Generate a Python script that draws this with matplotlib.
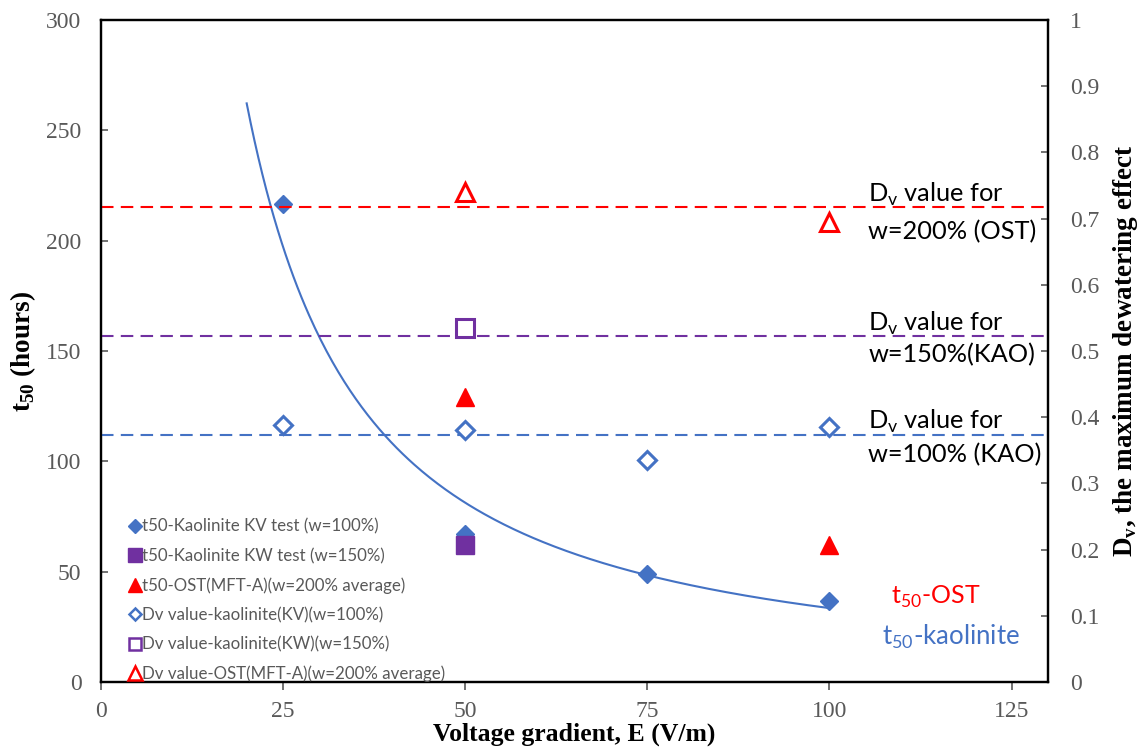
import numpy as np
import matplotlib
matplotlib.use("Agg")
import matplotlib.pyplot as plt
from matplotlib.lines import Line2D
from matplotlib.ticker import FuncFormatter

# t50 results (hours), left axis
e_kv = [25, 50, 75, 100]
t50_kv = [216.5, 67, 49, 36.5]
e_kw = [50]
t50_kw = [62]
e_ost = [50, 100]
t50_ost = [129, 62]

# Dv values, right axis
dv_kv = [0.388, 0.381, 0.335, 0.385]
dv_kw = [0.535]
dv_ost = [0.740, 0.695]

# average Dv levels drawn as dashed lines
dv_level_ost = 0.718
dv_level_kw = 0.523
dv_level_kv = 0.373

BLUE = "#4472C4"
PURPLE = "#7030A0"
RED = "#FF0000"
GREY = "#595959"
SERIF = "Liberation Serif"
SANS = "Lato"

fig = plt.figure(figsize=(11.45, 7.56), dpi=100)
ax = fig.add_axes([0.0882, 0.0979, 0.8271, 0.8756])
ax2 = ax.twinx()

# power trendline through the KV t50 points, extended back to 20 V/m
b, ln_a = np.polyfit(np.log(e_kv), np.log(t50_kv), 1)
xf = np.linspace(20, 100, 300)
ax.plot(xf, np.exp(ln_a) * xf ** b, color=BLUE, lw=1.5, zorder=2)

ax.plot(e_kv, t50_kv, ls="none", marker="D", ms=9.5, color=BLUE, zorder=3)
ax.plot(e_kw, t50_kw, ls="none", marker="s", ms=13, color=PURPLE, zorder=4)
ax.plot(e_ost, t50_ost, ls="none", marker="^", ms=13, color=RED, zorder=3)

dash = (0, (6, 3.5))
for lvl, c in [(dv_level_ost, RED), (dv_level_kw, PURPLE), (dv_level_kv, BLUE)]:
    ax2.axhline(lvl, color=c, lw=1.5, ls=dash, zorder=1)

ax2.plot(e_kv, dv_kv, ls="none", marker="D", ms=9.5, mfc="white", mec=BLUE, mew=2.2)
ax2.plot(e_kw, dv_kw, ls="none", marker="s", ms=12.5, mfc="white", mec=PURPLE, mew=2.2)
ax2.plot(e_ost, dv_ost, ls="none", marker="^", ms=12.5, mfc="white", mec=RED, mew=2.2)

ax.set_xlim(0, 130)
ax.set_ylim(0, 300)
ax2.set_ylim(0, 1)
ax.set_xticks(np.arange(0, 126, 25))
ax.set_yticks(np.arange(0, 301, 50))
ax2.set_yticks(np.arange(0, 1.01, 0.1))
ax2.yaxis.set_major_formatter(FuncFormatter(lambda v, p: "%g" % round(v, 1)))

for a in (ax, ax2):
    for s in a.spines.values():
        s.set_linewidth(1.6)
        s.set_color("black")
ax.tick_params(axis="y", direction="in", length=5, width=1.2, color=GREY,
               labelcolor=GREY, labelsize=17, pad=14)
ax.tick_params(axis="x", direction="out", length=6, width=1.2, color=GREY,
               labelcolor=GREY, labelsize=17, pad=8)
ax2.tick_params(axis="y", direction="in", length=5, width=1.2, color=GREY,
                labelcolor=GREY, labelsize=17, pad=16)
for lbl in ax.get_xticklabels() + ax.get_yticklabels() + ax2.get_yticklabels():
    lbl.set_fontfamily(SERIF)

ax.set_xlabel("Voltage gradient, E (V/m)", family=SERIF, weight="bold",
              fontsize=18.5, labelpad=0)
ax.set_ylabel(r"t$_{\mathregular{50}}$ (hours)", family=SERIF, weight="bold",
              fontsize=19.5, labelpad=6)
ax2.set_ylabel(r"D$_{\mathregular{v}}$, the maximum dewatering effect",
               family=SERIF, weight="bold", fontsize=19.5, labelpad=8)

# labels beside the dashed Dv levels
notes = [(0.736, 0.680, "w=200% (OST)"),
         (0.542, 0.494, "w=150%(KAO)"),
         (0.393, 0.343, "w=100% (KAO)")]
for y1, y2, txt in notes:
    ax2.text(105.3, y1, r"D$_{\mathregular{v}}$ value for", family=SANS,
             fontsize=18.3, va="center", ha="left")
    ax2.text(105.3, y2, txt, family=SANS, fontsize=18.3, va="center", ha="left")

ax.text(108.5, 0.128, r"t$_{\mathregular{50}}$-OST", transform=ax2.transData,
        family=SANS, fontsize=18, color=RED, va="center")
ax.text(107.2, 0.069, r"t$_{\mathregular{50}}$-kaolinite", transform=ax2.transData,
        family=SANS, fontsize=18.5, color=BLUE, va="center")

handles = [
    Line2D([], [], ls="none", marker="D", ms=7, color=BLUE),
    Line2D([], [], ls="none", marker="s", ms=10, color=PURPLE),
    Line2D([], [], ls="none", marker="^", ms=10, color=RED),
    Line2D([], [], ls="none", marker="D", ms=6.5, mfc="white", mec=BLUE, mew=1.8),
    Line2D([], [], ls="none", marker="s", ms=9, mfc="white", mec=PURPLE, mew=1.8),
    Line2D([], [], ls="none", marker="^", ms=9.5, mfc="white", mec=RED, mew=1.8),
]
labels = [
    "t50-Kaolinite KV test (w=100%)",
    "t50-Kaolinite KW test (w=150%)",
    "t50-OST(MFT-A)(w=200% average)",
    "Dv value-kaolinite(KV)(w=100%)",
    "Dv value-kaolinite(KW)(w=150%)",
    "Dv value-OST(MFT-A)(w=200% average)",
]
leg = ax2.legend(handles, labels, loc="lower left", bbox_to_anchor=(0.02, -0.016),
                 frameon=False, prop={"family": SANS, "size": 12.2},
                 handlelength=0.6, handletextpad=0.1, labelspacing=0.78,
                 borderaxespad=0.2)
for t in leg.get_texts():
    t.set_color(GREY)

fig.savefig("out.png", dpi=100)
